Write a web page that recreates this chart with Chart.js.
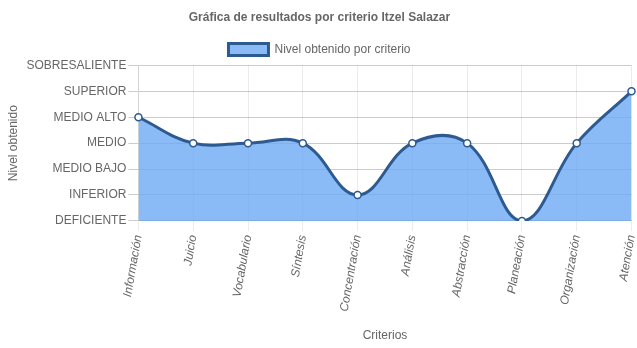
<!DOCTYPE html>
<html>
<head>
<meta charset="utf-8">
<script src="https://cdn.jsdelivr.net/npm/chart.js@4/dist/chart.umd.min.js"></script>
<style>
	html, body { margin: 0; padding: 0; background: #fff; }
	#wrap { width: 637px; height: 348px; }
</style>
</head>
<body>
<div id="wrap"><canvas id="grafica"></canvas></div>
<script>
const CRITERIOS = ['Información', 'Juicio', 'Vocabulario', 'Síntesis', 'Concentración', 'Análisis', 'Abstracción', 'Planeación', 'Organización', 'Atención'];
const NIVELES = ['DEFICIENTE', 'INFERIOR', 'MEDIO BAJO', 'MEDIO', 'MEDIO ALTO', 'SUPERIOR', 'SOBRESALIENTE'];
const RESULTADOS = [4, 3, 3, 3, 1, 3, 3, 0, 3, 5];

Chart.defaults.font.family = '"Liberation Sans", Arial, sans-serif';
Chart.defaults.font.size = 12;
Chart.defaults.color = '#666';

new Chart(document.getElementById('grafica').getContext('2d'), {
	type: 'line',
	data: {
		labels: CRITERIOS,
		datasets: [{
			label: 'Nivel obtenido por criterio',
			data: RESULTADOS,
			backgroundColor: 'rgba(110, 170, 245, 0.8)',
			borderColor: '#2d5a8f',
			borderWidth: 3,
			pointBackgroundColor: '#fff',
			pointBorderColor: '#2d5a8f',
			pointBorderWidth: 1.5,
			pointRadius: 3.5,
			tension: 0.4,
			fill: true
		}]
	},
	options: {
		responsive: true,
		maintainAspectRatio: false,
		animation: false,
		layout: {padding: {top: 0, right: 0, bottom: 0, left: 2}},
		plugins: {
			title: {
				display: true,
				text: 'Gráfica de resultados por criterio Itzel Salazar',
				font: {weight: 'bold', size: 12},
				padding: {top: 10, bottom: 8}
			},
			legend: {
				labels: {boxWidth: 40, boxHeight: 12, padding: 11}
			}
		},
		scales: {
			x: {
				title: {display: true, text: 'Criterios', padding: {top: 13, bottom: 5}},
				ticks: {minRotation: 80, maxRotation: 80, font: {style: 'italic'}},
				grid: {color: 'rgba(0,0,0,0.08)', tickLength: 10},
				afterFit: s => { s.paddingRight = 0; }
			},
			y: {
				min: 0,
				max: 6,
				title: {display: true, text: 'Nivel obtenido'},
				ticks: {
					stepSize: 1,
					padding: 2,
					callback: v => NIVELES[v]
				},
				grid: {color: 'rgba(0,0,0,0.2)', tickLength: 10}
			}
		}
	}
});
</script>
</body>
</html>
